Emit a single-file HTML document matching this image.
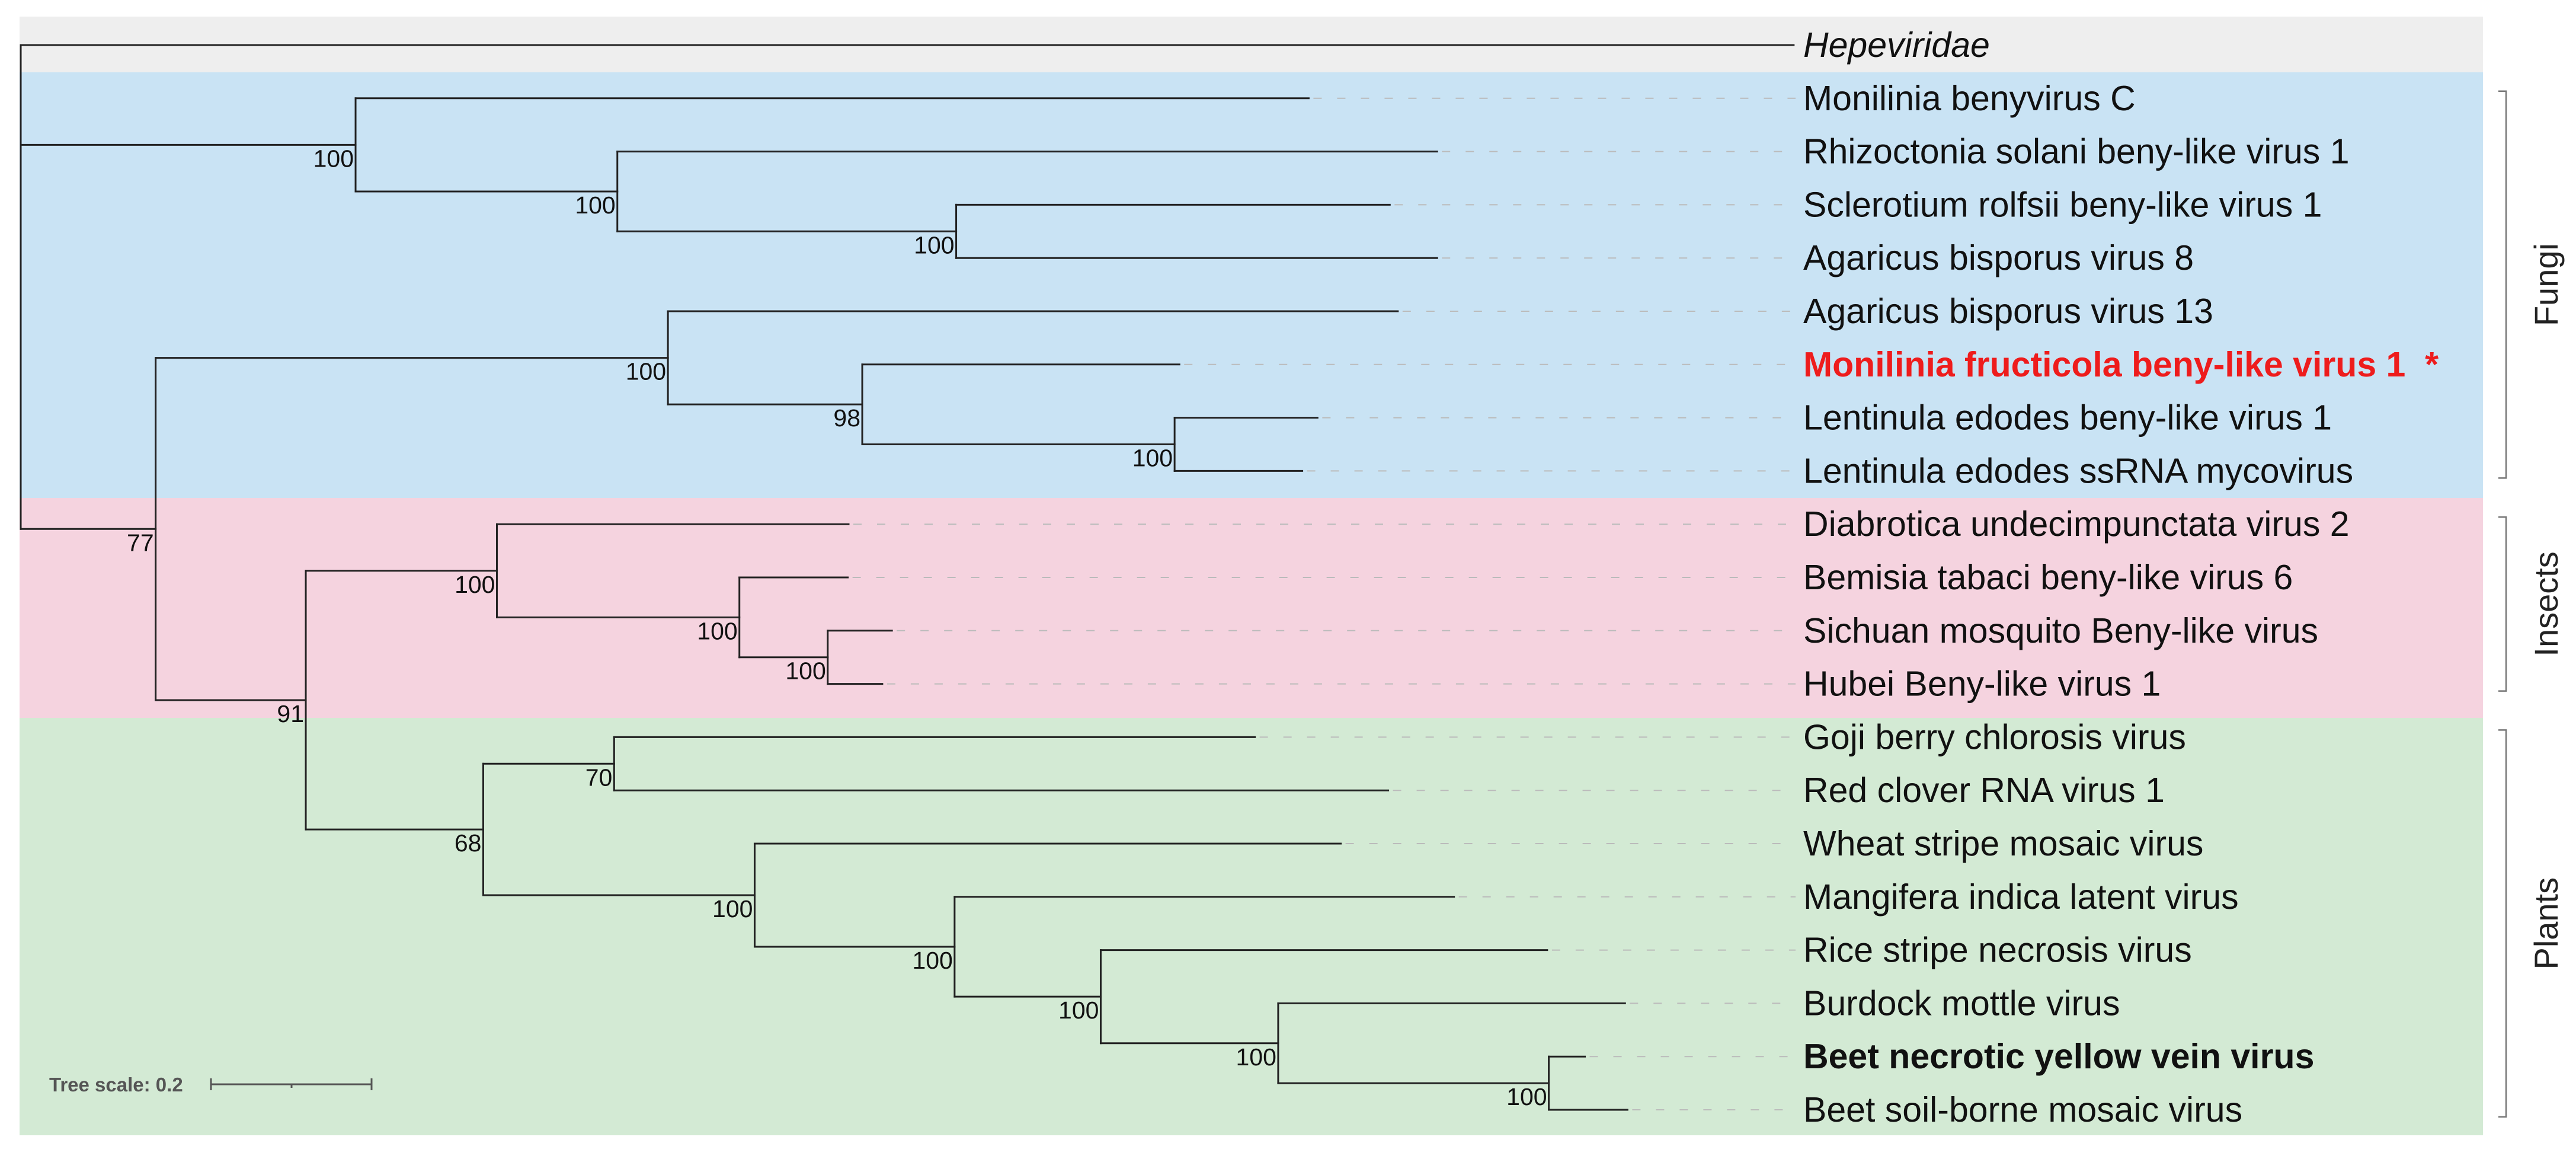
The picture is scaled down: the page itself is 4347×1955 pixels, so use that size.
<!DOCTYPE html>
<html><head><meta charset="utf-8"><style>
html,body{margin:0;padding:0;background:#fff}
svg{display:block}
text{font-family:"Liberation Sans",Arial,sans-serif}
</style></head><body>
<svg id="chart" width="4347" height="1955" viewBox="0 0 4347 1955" xmlns="http://www.w3.org/2000/svg">
<g id="bands"></g><g id="leaders"></g><g id="branches"></g><g id="labels"></g><g id="boots"></g><g id="groups"></g>
<g>
<text x="83" y="1841" font-size="33" font-weight="bold" fill="#555">Tree scale: 0.2</text>
<path d="M356 1829H627M356 1819V1839M627 1819V1839M492 1829V1835" stroke="#555" stroke-width="3" fill="none"/>
</g>
</svg>
<script>
const leafNames = ["Hepeviridae","Monilinia benyvirus C","Rhizoctonia solani beny-like virus 1","Sclerotium rolfsii beny-like virus 1","Agaricus bisporus virus 8","Agaricus bisporus virus 13","Monilinia fructicola beny-like virus 1","Lentinula edodes beny-like virus 1","Lentinula edodes ssRNA mycovirus","Diabrotica undecimpunctata virus 2","Bemisia tabaci beny-like virus 6","Sichuan mosquito Beny-like virus","Hubei Beny-like virus 1","Goji berry chlorosis virus","Red clover RNA virus 1","Wheat stripe mosaic virus","Mangifera indica latent virus","Rice stripe necrosis virus","Burdock mottle virus","Beet necrotic yellow vein virus","Beet soil-borne mosaic virus"];
const leafDepths = [2.208,1.604,1.764,1.705,1.764,1.715,1.443,1.615,1.596,1.031,1.030,1.085,1.073,1.537,1.703,1.644,1.785,1.901,1.998,1.948,2.001];
// internal nodes: [depth, bootstrap, children]; numbers = leaf index
const tree = [0, null, [0,
  [0.417,100,[1,[0.743,100,[2,[1.165,100,[3,4]]]]]],
  [0.168,77,[
    [0.806,100,[5,[1.048,98,[6,[1.437,100,[7,8]]]]]],
    [0.355,91,[
      [0.593,100,[9,[0.895,100,[10,[1.005,100,[11,12]]]]]],
      [0.576,68,[
        [0.739,70,[13,14]],
        [0.914,100,[15,[1.163,100,[16,[1.345,100,[17,[1.566,100,[18,[1.903,100,[19,20]]]]]]]]]]
      ]]
    ]]
  ]]
]];
const groupNames = ["Fungi","Insects","Plants"];
const groupStart = [1,9,13];
const groupEnd = [8,12,20];

const NS="http://www.w3.org/2000/svg";
const X0=35, UNIT=1355, Y0=76, ROW=89.8;
const xs=d=>X0+d*UNIT, ys=i=>Y0+i*ROW;
function mk(tag,attrs,parent,txt){const e=document.createElementNS(NS,tag);for(const k in attrs)e.setAttribute(k,attrs[k]);if(txt!==undefined)e.textContent=txt;document.getElementById(parent).appendChild(e);return e;}

const bandDefs=[[28,122,"#eeeeee","outgroup-band"],[122,840,"#c9e3f4","fungi-band"],[840,1211,"#f5d3df","insects-band"],[1211,1915,"#d3ead4","plants-band"]];
bandDefs.forEach(b=>{const r=mk("rect",{x:33,y:b[0],width:4157,height:b[1]-b[0],fill:b[2]},"bands");

});

function line(x1,y1,x2,y2,name){const l=mk("line",{x1,y1,x2,y2,stroke:"#222","stroke-width":3,"stroke-linecap":"square"},"branches");

}

function draw(node,parentX){
  if(typeof node==="number"){
    const y=ys(node), x=xs(leafDepths[node]);
    line(parentX,y,x,y,"leaf-branch");
    if(node>0){const d=mk("line",{x1:x+8,y1:y,x2:3030,y2:y,stroke:"#bbb","stroke-width":2,"stroke-dasharray":"14 26"},"leaders");
    
    }
    return y;
  }
  const x=xs(node[0]);
  const cy=node[2].map(c=>draw(c,x));
  const y=(Math.min(...cy)+Math.max(...cy))/2;
  line(x,Math.min(...cy),x,Math.max(...cy),"node-vertical");
  if(parentX!==null){line(parentX,y,x,y,"internal-branch");}
  if(node[1]!==null){const t=mk("text",{x:x-3,y:y+37,"font-size":41,"text-anchor":"end",fill:"#111"},"boots",String(node[1]));
  
  }
  return y;
}
draw(tree,null);

leafNames.forEach((n,i)=>{
  const a={x:3043,y:ys(i)+20,"font-size":59,fill:"#111"};
  if(i===0)a["font-style"]="italic";
  if(i===6){a.fill="#ee1c1c";a["font-weight"]="bold";}
  if(i===19)a["font-weight"]="bold";
  const t=mk("text",a,"labels",i===6?n+"\u00a0\u00a0*":n);
  
  
});

groupNames.forEach((g,k)=>{
  const y1=ys(groupStart[k])-12, y2=ys(groupEnd[k])+12;
  const p=mk("path",{d:`M4216 ${y1}H4229V${y2}H4216`,stroke:"#777","stroke-width":2.5,fill:"none"},"groups");
  
  
  const cy=(y1+y2)/2;
  const t=mk("text",{x:4316,y:cy,"font-size":56,fill:"#222","text-anchor":"middle",transform:`rotate(-90 4316 ${cy})`},"groups",g);
  
  
});
</script>
</body></html>
